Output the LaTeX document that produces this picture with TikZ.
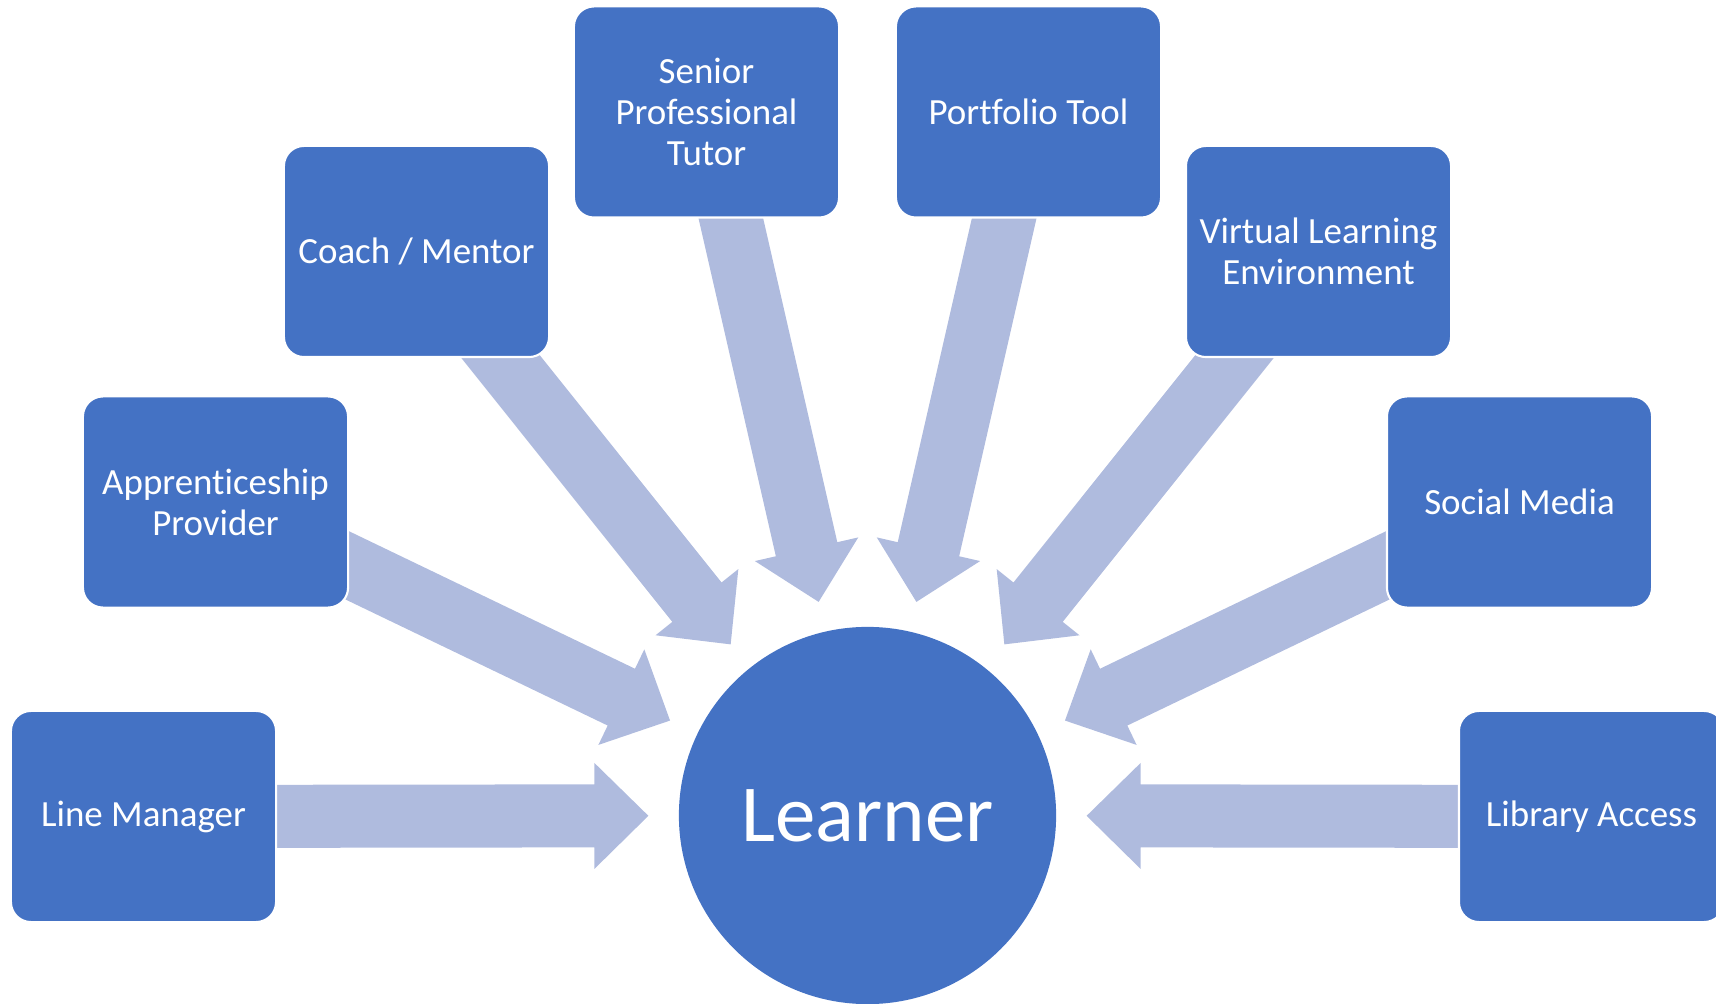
\documentclass[tikz,border=0pt]{standalone}
\usepackage{fontspec}
\setmainfont{Carlito}[Ligatures=NoCommon]
\usetikzlibrary{calc,backgrounds}
\definecolor{boxblue}{HTML}{4472C4}
\definecolor{feedblue}{HTML}{AFBBDE}
\tikzset{
	box/.style={rectangle,rounded corners=0.2cm,fill=boxblue,draw=white,line width=0.6pt,text=white,minimum width=2.65cm,minimum height=2.11cm,align=center,font=\fontsize{10.5}{11.7}\selectfont},
	hub/.style={circle,fill=boxblue,text=white,minimum size=3.77cm,inner sep=0pt,font=\fontsize{23}{26}\selectfont},
	feed/.style={fill=feedblue}
}
% fat block arrow from the centre of #1 towards #2, stopping short of #2
\newcommand{\feedarrow}[2]{%
	\coordinate (hb) at ($(#2)!2.73cm!(#1)$);
	\fill[feed] ($(#1)!0.315cm!-90:(hb)$) -- ($(hb)!0.315cm!90:(#1)$) -- ($(hb)!0.53cm!90:(#1)$)
		-- ($(#2)!2.19cm!(#1)$)
		-- ($(hb)!0.53cm!-90:(#1)$) -- ($(hb)!0.315cm!-90:(#1)$) -- ($(#1)!0.315cm!90:(hb)$) -- cycle;
}

\begin{document}
\begin{tikzpicture}[x=0.01cm,y=-0.01cm]
	\useasboundingbox (0,0) rectangle (1716,1004);

	\node [box] (line) at (143.5,816.5) {Line Manager};
	\node [box] (appr) at (215.5,502) {Apprenticeship\\Provider};
	\node [box] (coach) at (416.5,251.5) {Coach / Mentor};
	\node [box] (tutor) at (706.5,112) {Senior\\Professional\\Tutor};
	\node [box] (folio) at (1028.5,112) {Portfolio Tool};
	\node [box] (vle) at (1318.5,251.5) {Virtual Learning\\Environment};
	\node [box] (social) at (1519.5,502) {Social Media};
	\node [box] (library) at (1591.5,816.5) {Library Access};

	\node [hub] (learner) at (867.5,815.5) {Learner};

	\begin{scope}[on background layer]
		\feedarrow{line}{learner}
		\feedarrow{appr}{learner}
		\feedarrow{coach}{learner}
		\feedarrow{tutor}{learner}
		\feedarrow{folio}{learner}
		\feedarrow{vle}{learner}
		\feedarrow{social}{learner}
		\feedarrow{library}{learner}
	\end{scope}
\end{tikzpicture}
\end{document}
